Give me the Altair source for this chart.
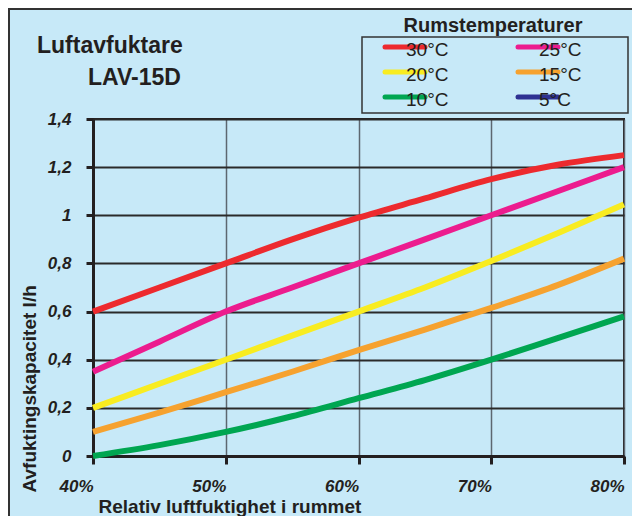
import altair as alt
import pandas as pd

# ---- data ----
rh = [40, 45, 50, 55, 60, 65, 70, 75, 80]
temps = ["30°C", "25°C", "20°C", "15°C", "10°C", "5°C"]
colors = ["#ed2a2e", "#ec1c8e", "#f8ec21", "#f6a22f", "#00a651", "#2e3192"]
cap_30 = [0.60, 0.70, 0.80, 0.90, 0.99, 1.07, 1.15, 1.21, 1.25]
cap_25 = [0.35, 0.475, 0.60, 0.70, 0.80, 0.90, 1.00, 1.10, 1.20]
cap_20 = [0.20, 0.30, 0.40, 0.50, 0.60, 0.70, 0.81, 0.925, 1.045]
cap_15 = [0.10, 0.18, 0.265, 0.35, 0.44, 0.525, 0.615, 0.71, 0.82]
cap_10 = [0.00, 0.045, 0.10, 0.165, 0.24, 0.315, 0.40, 0.49, 0.58]
x_ticks = [40, 50, 60, 70, 80]
y_ticks = [0, 0.2, 0.4, 0.6, 0.8, 1, 1.2, 1.4]
title_lines = ["Luftavfuktare", "LAV-15D"]
legend_title = "Rumstemperaturer"
x_title = "Relativ luftfuktighet i rummet"
y_title = "Avfuktingskapacitet l/h"

series = {"30°C": cap_30, "25°C": cap_25, "20°C": cap_20, "15°C": cap_15, "10°C": cap_10}
rows = []
for t, vals in series.items():
    for x, v in zip(rh, vals):
        rows.append({"rh": x, "cap": v, "temp": t})
df = pd.DataFrame(rows)

# legend entries: two columns, filled row by row
leg_df = pd.DataFrame({"temp": temps,
                       "col": [i % 2 for i in range(len(temps))],
                       "row": [i // 2 for i in range(len(temps))]})

FONT = "Liberation Sans, Arial, Helvetica, sans-serif"
INK = "#231f20"
color_scale = alt.Scale(domain=temps, range=colors)

lines = alt.Chart(df).mark_line(strokeWidth=6, interpolate="monotone").encode(
    x=alt.X("rh:Q", scale=alt.Scale(domain=[40, 80], nice=False, zero=False),
            axis=alt.Axis(values=x_ticks, labelExpr="datum.value + '%'", labelAlign="right",
                          labelBaseline="alphabetic", labelPadding=27, labelFlush=False,
                          tickSize=8, tickWidth=3, tickColor=INK, domainColor=INK, domainWidth=3,
                          gridColor="#5d6770", gridWidth=1.5,
                          labelFont=FONT, labelFontSize=17, labelFontWeight="bold",
                          labelFontStyle="italic", labelColor=INK,
                          title=x_title, titleFont=FONT, titleFontSize=19, titleFontWeight="bold",
                          titleColor=INK, titleAnchor="start", titleAlign="left",
                          titleBaseline="alphabetic", titleX=5, titleY=56)),
    y=alt.Y("cap:Q", scale=alt.Scale(domain=[0, 1.4], nice=False),
            axis=alt.Axis(values=y_ticks,
                          labelExpr="replace(format(datum.value, '.1~f'), '.', ',')",
                          labelBaseline="middle", labelPadding=15, labelFlush=False,
                          tickSize=7, tickWidth=3, tickColor=INK, domainColor=INK, domainWidth=3,
                          gridColor="#2a2a2a", gridWidth=2,
                          labelFont=FONT, labelFontSize=17, labelFontWeight="bold",
                          labelFontStyle="italic", labelColor=INK,
                          title=y_title, titleFont=FONT, titleFontSize=19, titleFontWeight="bold",
                          titleColor=INK, titleAngle=270, titleAlign="left",
                          titleBaseline="middle", titleX=-64, titleY=373)),
    color=alt.Color("temp:N", scale=color_scale, legend=None),
)

# legend drawn through its own (independent) scales
leg_x = alt.X("col:Q", scale=alt.Scale(domain=[0, 1], range=[312, 445]), axis=None)
leg_y = alt.Y("row:Q", scale=alt.Scale(domain=[0, 2], range=[-72, -22]), axis=None)
leg_sym = alt.Chart(leg_df).mark_point(
    shape="M-1,0H1", size=1600, filled=False, strokeWidth=5, strokeCap="round", opacity=1
).encode(x=leg_x, y=leg_y, color=alt.Color("temp:N", scale=color_scale, legend=None))
leg_txt = alt.Chart(leg_df).mark_text(
    align="left", baseline="middle", dx=1, dy=2.5, font=FONT, fontSize=19, color=INK
).encode(x=leg_x, y=leg_y, text="temp:N")

one = pd.DataFrame({"k": [0]})
frame = alt.Chart(one).mark_rect(filled=False, stroke="#333333", strokeWidth=2).encode(
    x=alt.value(-84), x2=alt.value(620), y=alt.value(-110), y2=alt.value(430))
legbox = alt.Chart(one).mark_rect(filled=False, stroke="#333333", strokeWidth=1.5).encode(
    x=alt.value(269), x2=alt.value(535), y=alt.value(-82), y2=alt.value(-6))

t1 = alt.Chart(pd.DataFrame({"t": [title_lines[0]]})).mark_text(
    align="left", baseline="alphabetic", font=FONT, fontSize=23, fontWeight="bold", color=INK
).encode(text="t:N", x=alt.value(-56), y=alt.value(-66))
t2 = alt.Chart(pd.DataFrame({"t": [title_lines[1]]})).mark_text(
    align="left", baseline="alphabetic", font=FONT, fontSize=23, fontWeight="bold", color=INK
).encode(text="t:N", x=alt.value(-5), y=alt.value(-34))
t3 = alt.Chart(pd.DataFrame({"t": [legend_title]})).mark_text(
    align="center", baseline="alphabetic", font=FONT, fontSize=20, fontWeight="bold", color=INK
).encode(text="t:N", x=alt.value(400), y=alt.value(-87))

chart = alt.layer(frame, legbox, lines, leg_sym, leg_txt, t1, t2, t3).resolve_scale(
    x="independent", y="independent"
).properties(
    width=531, height=337,
    padding={"left": 85, "top": 111, "right": 8, "bottom": 60},
    autosize=alt.AutoSizeParams(type="none"),
    background="#c7e9f8",
).configure_view(stroke=INK, strokeWidth=2)

chart.save("out.html", embed_options={"renderer": "svg", "actions": False})
